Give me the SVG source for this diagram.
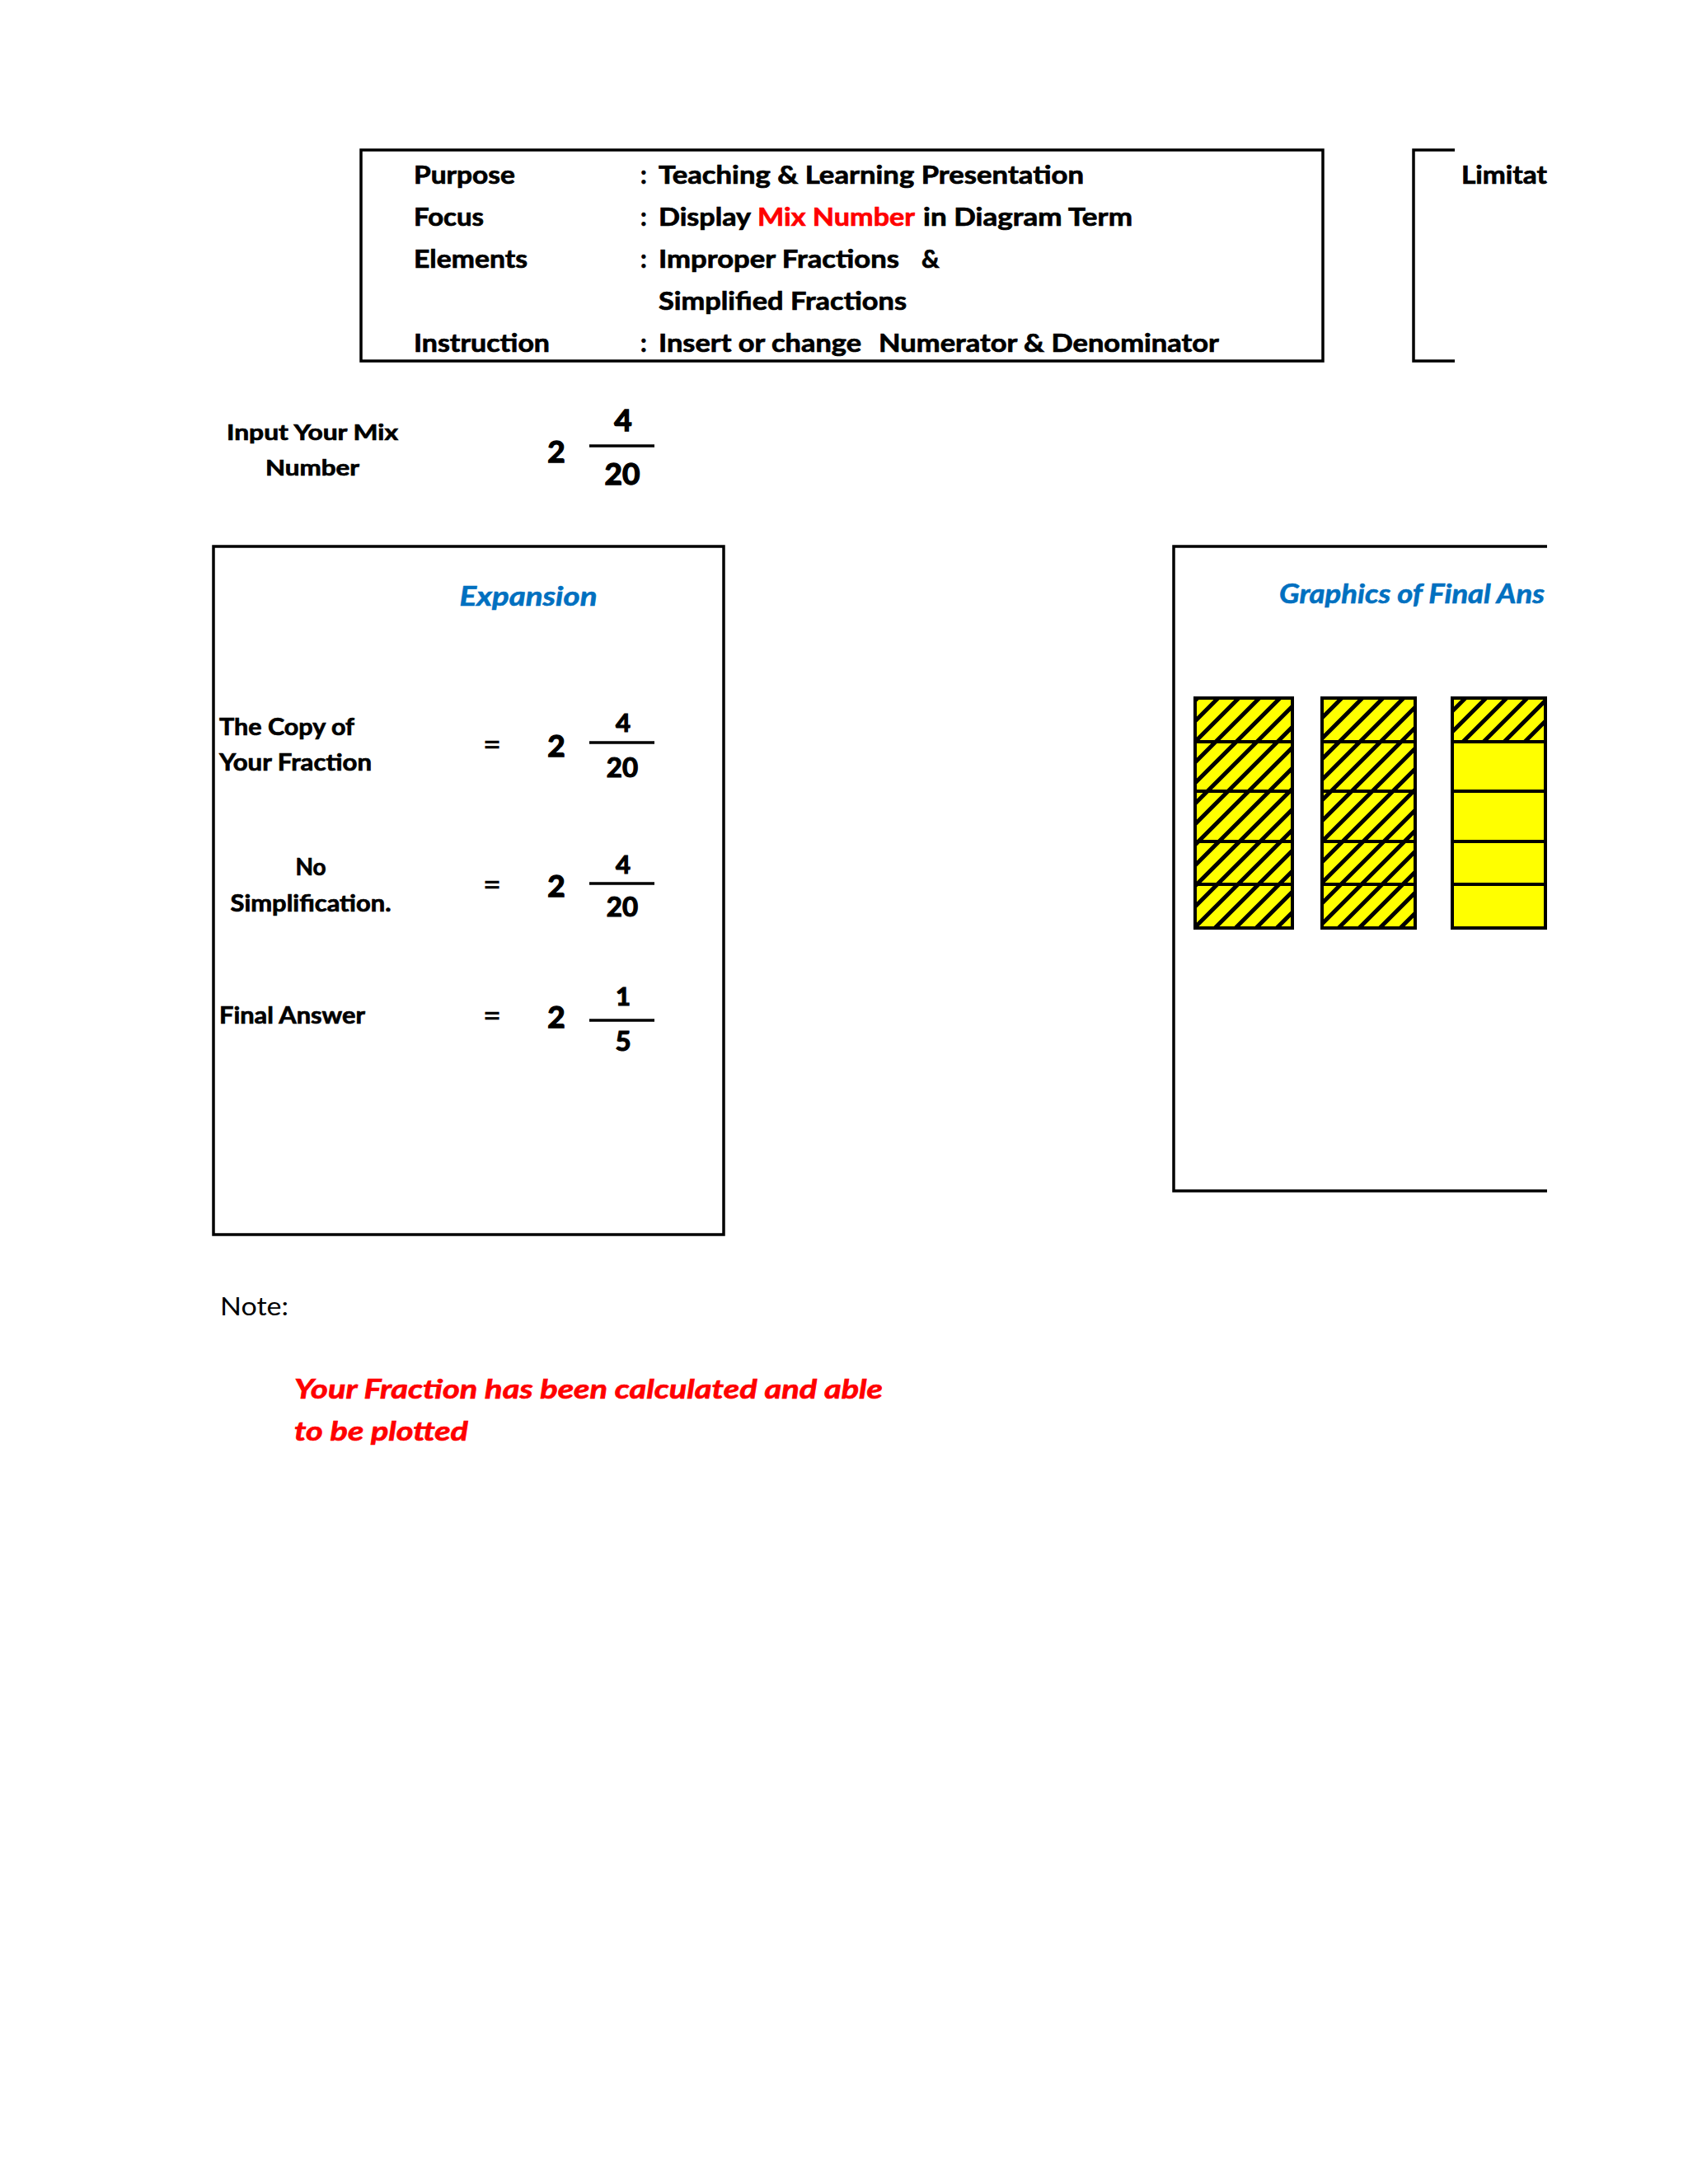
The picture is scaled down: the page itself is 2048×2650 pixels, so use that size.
<svg xmlns="http://www.w3.org/2000/svg" width="2048" height="2650" viewBox="0 0 2048 2650">
<style>
text{font-family:Lato,"Open Sans","Liberation Sans",sans-serif;fill:#000}
.b{font-weight:bold;stroke:#000;stroke-width:0.7}
.hd{font-size:30px;font-weight:bold;stroke:#000;stroke-width:0.7}
.lbl{font-size:28px;font-weight:bold;stroke:#000;stroke-width:0.7}
.big{font-size:37px;font-weight:bold;text-anchor:middle;stroke:#000;stroke-width:1.4}
.num{font-size:31px;font-weight:bold;text-anchor:middle;stroke:#000;stroke-width:1.2}
.den{font-size:33px;font-weight:bold;text-anchor:middle;stroke:#000;stroke-width:1.2}
.eq{font-size:38px;text-anchor:middle;stroke:#000;stroke-width:0.6}
.ttl{font-size:32px;font-weight:bold;font-style:italic;fill:#0070C0;stroke:#0070C0;stroke-width:0.6}
.red{fill:#FF0000;stroke:#FF0000}
.frame{fill:none;stroke:#000;stroke-width:3.5}
.fl{stroke:#000;stroke-width:3.5}
.cell{fill:#FFFF00;stroke:#000;stroke-width:4}
.hatch{fill:url(#hatch)}
</style>
<defs>
<pattern id="hatch" patternUnits="userSpaceOnUse" width="25" height="25">
<path d="M0,25 L25,0 M-6,6 L6,-6 M19,31 L31,19" stroke="#000" stroke-width="5"/>
</pattern>
<clipPath id="clipR"><rect x="0" y="0" width="1877" height="2650"/></clipPath>
</defs>
<rect width="2048" height="2650" fill="#fff"/>

<g id="info-box">
<rect class="frame" x="438" y="182" width="1167" height="256"/>
<text class="hd" x="502" y="223" textLength="123" lengthAdjust="spacingAndGlyphs">Purpose</text>
<text class="hd" x="777" y="223">:</text>
<text class="hd" x="799" y="223" textLength="516" lengthAdjust="spacingAndGlyphs">Teaching &amp; Learning Presentation</text>
<text class="hd" x="502" y="274" textLength="85" lengthAdjust="spacingAndGlyphs">Focus</text>
<text class="hd" x="777" y="274">:</text>
<text class="hd" x="799" y="274" textLength="112" lengthAdjust="spacingAndGlyphs">Display</text>
<text class="hd red" x="919" y="274" textLength="191" lengthAdjust="spacingAndGlyphs">Mix Number</text>
<text class="hd" x="1120" y="274" textLength="254" lengthAdjust="spacingAndGlyphs">in Diagram Term</text>
<text class="hd" x="502" y="325" textLength="138" lengthAdjust="spacingAndGlyphs">Elements</text>
<text class="hd" x="777" y="325">:</text>
<text class="hd" x="799" y="325" textLength="292" lengthAdjust="spacingAndGlyphs">Improper Fractions</text>
<text class="hd" x="1118" y="325">&amp;</text>
<text class="hd" x="799" y="376" textLength="301" lengthAdjust="spacingAndGlyphs">Simplified Fractions</text>
<text class="hd" x="502" y="427" textLength="165" lengthAdjust="spacingAndGlyphs">Instruction</text>
<text class="hd" x="777" y="427">:</text>
<text class="hd" x="799" y="427" textLength="246" lengthAdjust="spacingAndGlyphs">Insert or change</text>
<text class="hd" x="1066" y="427" textLength="413" lengthAdjust="spacingAndGlyphs">Numerator &amp; Denominator</text>
</g>

<g id="limitation-box">
<path class="frame" d="M1765,182 H1715 V438 H1765"/>
<text class="hd" x="1773" y="223" textLength="104" lengthAdjust="spacingAndGlyphs">Limitat</text>
</g>

<g id="input-mix-number">
<text class="b" font-size="26" x="379" y="534" text-anchor="middle" textLength="208" lengthAdjust="spacingAndGlyphs">Input Your Mix</text>
<text class="b" font-size="26" x="379" y="577" text-anchor="middle" textLength="114" lengthAdjust="spacingAndGlyphs">Number</text>
<text class="big" x="675" y="561">2</text>
<text class="big" font-size="32" x="756" y="523">4</text>
<line class="fl" x1="715" y1="541" x2="794" y2="541"/>
<text class="big" x="755" y="588">20</text>
</g>

<g id="expansion-box">
<rect class="frame" x="259" y="663" width="619" height="835"/>
<text class="ttl" x="641" y="735" text-anchor="middle" textLength="167" lengthAdjust="spacingAndGlyphs">Expansion</text>

<text class="lbl" x="266" y="892" textLength="164" lengthAdjust="spacingAndGlyphs">The Copy of</text>
<text class="lbl" x="266" y="935" textLength="185" lengthAdjust="spacingAndGlyphs">Your Fraction</text>
<text class="eq" x="597" y="917">=</text>
<text class="big" x="675" y="918">2</text>
<text class="num" x="756" y="888">4</text>
<line class="fl" x1="715" y1="901" x2="794" y2="901"/>
<text class="den" x="755" y="943">20</text>

<text class="lbl" x="377" y="1062" text-anchor="middle">No</text>
<text class="lbl" x="377" y="1106" text-anchor="middle" textLength="195" lengthAdjust="spacingAndGlyphs">Simplification.</text>
<text class="eq" x="597" y="1087">=</text>
<text class="big" x="675" y="1088">2</text>
<text class="num" x="756" y="1060">4</text>
<line class="fl" x1="715" y1="1072" x2="794" y2="1072"/>
<text class="den" x="755" y="1112">20</text>

<text class="lbl" x="266" y="1242" textLength="177" lengthAdjust="spacingAndGlyphs">Final Answer</text>
<text class="eq" x="597" y="1246">=</text>
<text class="big" x="675" y="1247">2</text>
<text class="num" x="756" y="1220">1</text>
<line class="fl" x1="715" y1="1238" x2="794" y2="1238"/>
<text class="den" x="756" y="1275">5</text>
</g>

<g id="graphics-box" clip-path="url(#clipR)">
<path class="frame" d="M1877,663 H1424 V1445 H1877"/>
<text class="ttl" x="1552" y="732" textLength="322" lengthAdjust="spacingAndGlyphs">Graphics of Final Ans</text>
</g>

<g id="bar-1">
<rect class="cell" x="1450" y="847" width="118" height="53"/><rect class="hatch" x="1450" y="847" width="118" height="53"/>
<rect class="cell" x="1450" y="900" width="118" height="60"/><rect class="hatch" x="1450" y="900" width="118" height="60"/>
<rect class="cell" x="1450" y="960" width="118" height="61"/><rect class="hatch" x="1450" y="960" width="118" height="61"/>
<rect class="cell" x="1450" y="1021" width="118" height="52"/><rect class="hatch" x="1450" y="1021" width="118" height="52"/>
<rect class="cell" x="1450" y="1073" width="118" height="53"/><rect class="hatch" x="1450" y="1073" width="118" height="53"/>
<rect class="frame" stroke-width="4" x="1450" y="847" width="118" height="279"/>
</g>
<g id="bar-2">
<rect class="cell" x="1604" y="847" width="113" height="53"/><rect class="hatch" x="1604" y="847" width="113" height="53"/>
<rect class="cell" x="1604" y="900" width="113" height="60"/><rect class="hatch" x="1604" y="900" width="113" height="60"/>
<rect class="cell" x="1604" y="960" width="113" height="61"/><rect class="hatch" x="1604" y="960" width="113" height="61"/>
<rect class="cell" x="1604" y="1021" width="113" height="52"/><rect class="hatch" x="1604" y="1021" width="113" height="52"/>
<rect class="cell" x="1604" y="1073" width="113" height="53"/><rect class="hatch" x="1604" y="1073" width="113" height="53"/>
<rect class="frame" stroke-width="4" x="1604" y="847" width="113" height="279"/>
</g>
<g id="bar-3">
<rect class="cell" x="1762" y="847" width="113" height="53"/><rect class="hatch" x="1762" y="847" width="113" height="53"/>
<rect class="cell" x="1762" y="900" width="113" height="60"/>
<rect class="cell" x="1762" y="960" width="113" height="61"/>
<rect class="cell" x="1762" y="1021" width="113" height="52"/>
<rect class="cell" x="1762" y="1073" width="113" height="53"/>
<rect class="frame" stroke-width="4" x="1762" y="847" width="113" height="279"/>
</g>

<g id="note">
<text font-size="30" x="267" y="1596" textLength="83" lengthAdjust="spacingAndGlyphs">Note:</text>
<text class="b red" font-size="33" font-style="italic" x="357" y="1697" textLength="714" lengthAdjust="spacingAndGlyphs">Your Fraction has been calculated and able</text>
<text class="b red" font-size="33" font-style="italic" x="357" y="1748" textLength="211" lengthAdjust="spacingAndGlyphs">to be plotted</text>
</g>

<g id="connectors"></g>
</svg>
